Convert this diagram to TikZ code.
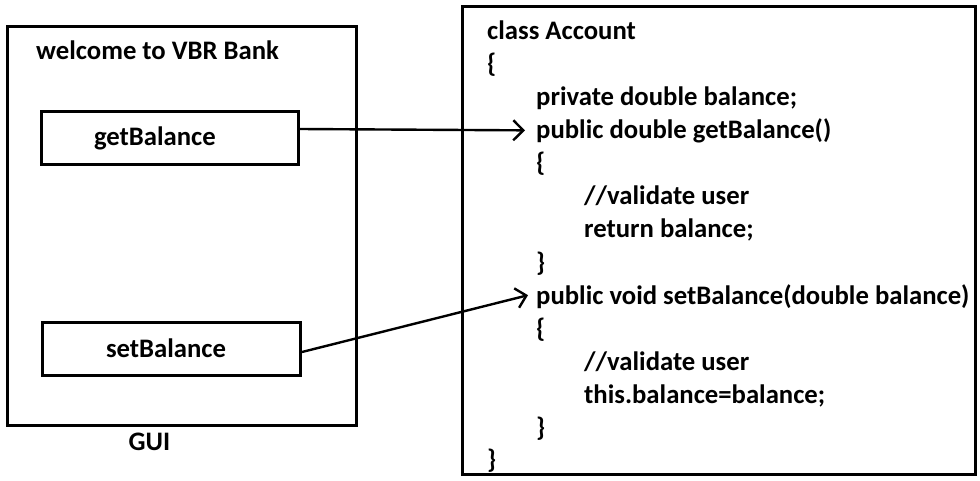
\documentclass[tikz,border=0pt]{standalone}
\usepackage{fontspec}
\setmainfont{Carlito}
\usetikzlibrary{arrows.meta}

\begin{document}
\begin{tikzpicture}[x=1pt,y=-1pt,>={Straight Barb[length=10pt,width=20pt]},font=\bfseries\fontsize{26.7}{32}\selectfont]
				\tikzstyle{frame}=[draw,line width=3pt,inner sep=0pt]
				\tikzstyle{code}=[anchor=base west,inner sep=0pt]
				\tikzstyle{link}=[->,line width=2.4pt]
				\useasboundingbox (0,0) rectangle (980,481);
				%GUI window
				\node[frame,minimum width=349,minimum height=398](gui) at (181.5,226){};
				\node[code](title) at (36,60){welcome to VBR Bank};
				\node[frame,minimum width=257,minimum height=53,text width=151,align=left](getb) at (169.5,138.5){getBalance};
				\node[frame,minimum width=258,minimum height=53,text width=131,align=left](setb) at (171.5,348.5){setBalance};
				\node[anchor=base](guilabel) at (149.5,450){GUI};
				%Account class
				\node[frame,minimum width=513,minimum height=467](acct) at (718.5,240.5){};
				\node[code](l1) at (487,40){class Account};
				\node[code](l2) at (487,73){\{};
				\node[code](l3) at (536,106){private double balance;};
				\node[code](l4) at (536,139){public double getBalance()};
				\node[code](l5) at (536,172){\{};
				\node[code](l6) at (584,205){//validate user};
				\node[code](l7) at (584,238){return balance;};
				\node[code](l8) at (536,271){\}};
				\node[code](l9) at (536,304){public void setBalance(double balance)};
				\node[code](l10) at (536,337){\{};
				\node[code](l11) at (584,370){//validate user};
				\node[code](l12) at (584,403){this.balance=balance;};
				\node[code](l13) at (536,436){\}};
				\node[code](l14) at (487,468){\}};
				%Arrows
				\draw[link] ([yshift=9.5pt]getb.east) -- ([xshift=-11pt,yshift=1pt]l4.west);
				\draw[link] ([yshift=-3.5pt]setb.east) -- ([xshift=-8pt,yshift=1pt]l9.west);
\end{tikzpicture}
\end{document}
